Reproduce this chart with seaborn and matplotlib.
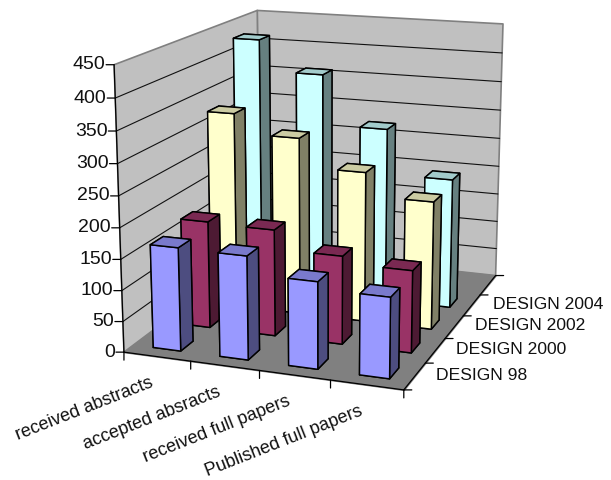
import numpy as np
import matplotlib
matplotlib.use("Agg")
import matplotlib.pyplot as plt
import seaborn as sns
from mpl_toolkits.mplot3d.art3d import Poly3DCollection

# Submissions per conference edition
categories = ["received abstracts", "accepted absracts", "received full papers", "Published full papers"]
series_names = ["DESIGN 98", "DESIGN 2000", "DESIGN 2002", "DESIGN 2004"]
design_98 = [167, 166, 138, 127]
design_2000 = [177, 175, 144, 133]
design_2002 = [329, 297, 250, 212]
design_2004 = [432, 380, 296, 220]
z_ticks = [0, 50, 100, 150, 200, 250, 300, 350, 400, 450]
series_values = [design_98, design_2000, design_2002, design_2004]

sns.set_theme(style="white")
plt.rcParams["font.family"] = ["Liberation Sans", "DejaVu Sans"]
front_colors = sns.color_palette(["#9999FF", "#993366", "#FFFFCC", "#CCFFFF"])

FIG_W, FIG_H = 611, 480
DEPTH_SLOTS = 5   # the depth axis keeps one empty slot behind the last series
Z_MAX = z_ticks[-1]
X_MAX = len(categories)
BAR_X0, BAR_Y0 = 0.3, 0.3
BAR_W, BAR_D = 0.415, 0.41

fig = plt.figure(figsize=(FIG_W / 100, FIG_H / 100), dpi=100, facecolor="white")
SCALE, TX, TY = 2746.3, 322.73, 180.01
side = SCALE * 0.185
ax = fig.add_axes([(TX - SCALE * 0.095) / FIG_W,
                   (FIG_H - TY - SCALE * 0.095) / FIG_H,
                   side / FIG_W, side / FIG_H], projection="3d")
ax.computed_zorder = False
ax.set_axis_off()
ax.view_init(elev=14.773, azim=-70.311)
ax.set_proj_type("persp", focal_length=0.5737)
ax.set_box_aspect((1.0014, 1.2479, 1))


def set_limits():
    ax.set_xlim(0, X_MAX)
    ax.set_ylim(0, DEPTH_SLOTS)
    ax.set_zlim(0, Z_MAX)


set_limits()

# Walls and floor
X, Y, Z = X_MAX, DEPTH_SLOTS, Z_MAX
walls = [[(0, 0, 0), (0, Y, 0), (0, Y, Z), (0, 0, Z)],
         [(0, Y, 0), (X, Y, 0), (X, Y, Z), (0, Y, Z)]]
floor = [[(0, 0, 0), (X, 0, 0), (X, Y, 0), (0, Y, 0)]]
ax.add_collection3d(Poly3DCollection(walls, facecolor="#C0C0C0", edgecolor="#808080",
                                     linewidth=1.2, zorder=1))
ax.add_collection3d(Poly3DCollection(floor, facecolor="#808080", edgecolor="#808080",
                                     linewidth=1, zorder=1.5))

# Gridlines on both walls
for z in z_ticks[1:-1]:
    ax.plot([0, 0, X], [0, Y, Y], [z, z, z], color="#111111", lw=0.8, zorder=2)

# Axis edges
ax.plot([0, 0], [0, 0], [0, Z], color="black", lw=0.9, zorder=2.5)
ax.plot([0, X, X], [0, 0, Y], [0, 0, 0], color="black", lw=0.9, zorder=2.5)

# Bars, painted back to front
zorder = 3.0
for j in reversed(range(len(series_values))):
    base = np.array(front_colors[j])
    side_c, top_c = tuple(base * 0.5), tuple(base * 0.8)
    face = tuple(base)
    # bar3d face order: bottom, top, front, back, left, right
    colors = [side_c, top_c, face, side_c, side_c, side_c]
    for i, value in enumerate(series_values[j]):
        ax.bar3d(i + BAR_X0, j + BAR_Y0, 0, BAR_W, BAR_D, value,
                 color=colors, edgecolor="black", linewidth=1.05, shade=False,
                 zorder=zorder)
        zorder += 0.01
set_limits()

M = ax.get_proj()


def view(x, y, z):
    h = M @ np.array([x, y, z, 1.0])
    return h[0] / h[3], h[1] / h[3]


def tick(x, y, z, dx, dy):
    ax.annotate("", xy=view(x, y, z), xytext=(dx, dy), textcoords="offset pixels",
                arrowprops=dict(arrowstyle="-", color="black", lw=0.9, shrinkA=0, shrinkB=0))


def label(text, x, y, z, dx, dy, size, **kw):
    ax.annotate(text, xy=view(x, y, z), xytext=(dx, dy), textcoords="offset pixels",
                fontsize=size, color="#111111", va="center", **kw)


for z in z_ticks:
    tick(0, 0, z, -8, 0)
    label(str(z), 0, 0, z, -9, 0, 14, ha="right")

for i in range(X_MAX + 1):
    tick(i, 0, 0, 0, -8)
for j in range(DEPTH_SLOTS + 1):
    tick(X, j, 0, 8, 0)

for i, name in enumerate(categories):
    label(name, i + 0.5, 0, 0, -5, -26, 13, ha="right", rotation=21.5, rotation_mode="anchor")
for j, name in enumerate(series_names):
    label(name, X, j + 0.5, 0, 21, 1, 12.6, ha="left")

fig.savefig("out.png", dpi=100, facecolor="white")
